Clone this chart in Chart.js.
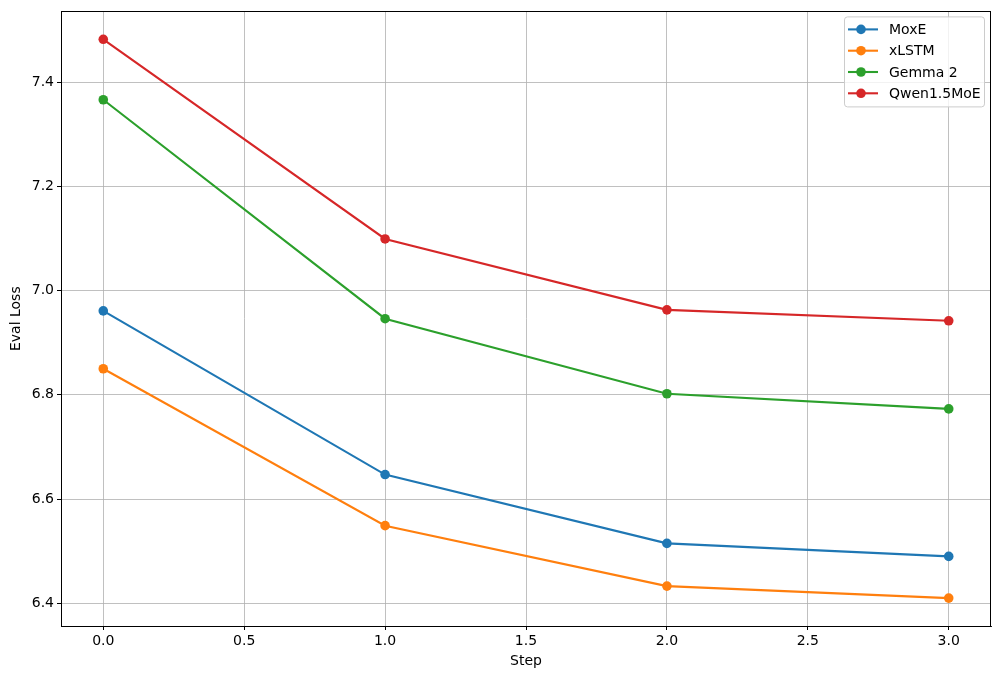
<!DOCTYPE html>
<html>
<head>
<meta charset="utf-8">
<script src="https://cdn.jsdelivr.net/npm/chart.js@4.4.0/dist/chart.umd.min.js"></script>
<style>
  html, body { margin: 0; padding: 0; background: #fff; }
  #wrap { width: 1001px; height: 679px; }
</style>
</head>
<body>
<div id="wrap"><canvas id="lossChart" width="1001" height="679"></canvas></div>
<script>
// data
const steps = [0, 1, 2, 3];
const moxe = [6.961, 6.647, 6.515, 6.490];
const xlstm = [6.850, 6.549, 6.433, 6.410];
const gemma2 = [7.366, 6.946, 6.802, 6.773];
const qwenMoe = [7.482, 7.099, 6.963, 6.942];
const seriesNames = ['MoxE', 'xLSTM', 'Gemma 2', 'Qwen1.5MoE'];
const seriesColors = ['#1f77b4', '#ff7f0e', '#2ca02c', '#d62728'];
const xTicks = [0.0, 0.5, 1.0, 1.5, 2.0, 2.5, 3.0];
const yTicks = [6.4, 6.6, 6.8, 7.0, 7.2, 7.4];

const FONT = "'DejaVu Sans', sans-serif";
Chart.defaults.font.family = FONT;
Chart.defaults.font.size = 14;
Chart.defaults.color = '#000';

function toPoints(vals) {
    return vals.map((v, i) => ({ x: steps[i], y: v }));
}

// full black frame around the plot area
const frame = {
    id: 'frame',
    afterDatasetsDraw(chart) {
        const a = chart.chartArea;
        const ctx = chart.ctx;
        ctx.save();
        ctx.strokeStyle = '#000';
        ctx.lineWidth = 1;
        ctx.strokeRect(Math.round(a.left) + 0.5, Math.round(a.top) + 0.5,
            Math.round(a.right - a.left) - 1, Math.round(a.bottom - a.top));
        ctx.restore();
    }
};

// matplotlib-like legend in the upper right corner
const innerLegend = {
    id: 'innerLegend',
    afterDraw(chart) {
        const a = chart.chartArea;
        const ctx = chart.ctx;
        const w = 140, h = 90;
        const x0 = a.right - 7 - w, y0 = a.top + 5;
        ctx.save();
        ctx.fillStyle = 'rgba(255,255,255,0.8)';
        ctx.strokeStyle = '#cccccc';
        ctx.lineWidth = 1;
        ctx.beginPath();
        ctx.roundRect(x0 + 0.5, y0 + 0.5, w, h, 3);
        ctx.fill();
        ctx.stroke();
        ctx.font = '14px ' + FONT;
        ctx.textBaseline = 'middle';
        chart.data.datasets.forEach((ds, i) => {
            const yy = y0 + 13 + i * 21.3;
            ctx.strokeStyle = ds.borderColor;
            ctx.lineWidth = 2.1;
            ctx.beginPath();
            ctx.moveTo(x0 + 4, yy);
            ctx.lineTo(x0 + 34, yy);
            ctx.stroke();
            ctx.fillStyle = ds.borderColor;
            ctx.beginPath();
            ctx.arc(x0 + 17, yy, 4.8, 0, Math.PI * 2);
            ctx.fill();
            ctx.fillStyle = '#000';
            ctx.fillText(ds.label, x0 + 45, yy + 1);
        });
        ctx.restore();
    }
};

const ctx = document.getElementById('lossChart');
new Chart(ctx, {
    type: 'line',
    data: {
        datasets: [moxe, xlstm, gemma2, qwenMoe].map((vals, i) => ({
            label: seriesNames[i],
            data: toPoints(vals),
            borderColor: seriesColors[i],
            backgroundColor: seriesColors[i],
            borderWidth: 2.1,
            pointRadius: 4.8,
            pointBorderWidth: 0,
            pointBackgroundColor: seriesColors[i],
            tension: 0,
            fill: false,
        }))
    },
    options: {
        responsive: false,
        animation: false,
        layout: { padding: { top: 10, right: 10, left: 0, bottom: 0 } },
        plugins: {
            legend: { display: false },
            tooltip: { enabled: false }
        },
        scales: {
            x: {
                type: 'linear',
                min: -0.15,
                max: 3.15,
                afterBuildTicks: axis => { axis.ticks = xTicks.map(v => ({ value: v })); },
                afterFit: scale => { scale.height = 53; },
                grid: { color: '#b0b0b0', lineWidth: 0.8, tickColor: '#000', tickLength: 4, tickWidth: 1 },
                border: { color: '#000', width: 1 },
                ticks: { padding: 3, maxRotation: 0, callback: v => v.toFixed(1) },
                title: { display: true, text: 'Step', padding: { top: 0, bottom: 9 } }
            },
            y: {
                type: 'linear',
                min: 6.3565,
                max: 7.5355,
                afterBuildTicks: axis => { axis.ticks = yTicks.map(v => ({ value: v })); },
                afterFit: scale => { scale.width = 61; },
                grid: { color: '#b0b0b0', lineWidth: 0.8, tickColor: '#000', tickLength: 4, tickWidth: 1 },
                border: { color: '#000', width: 1 },
                ticks: { padding: 3, callback: v => v.toFixed(1) },
                title: { display: true, text: 'Eval Loss', padding: { top: 8, bottom: 0 } }
            }
        }
    },
    plugins: [frame, innerLegend]
});
</script>
</body>
</html>
